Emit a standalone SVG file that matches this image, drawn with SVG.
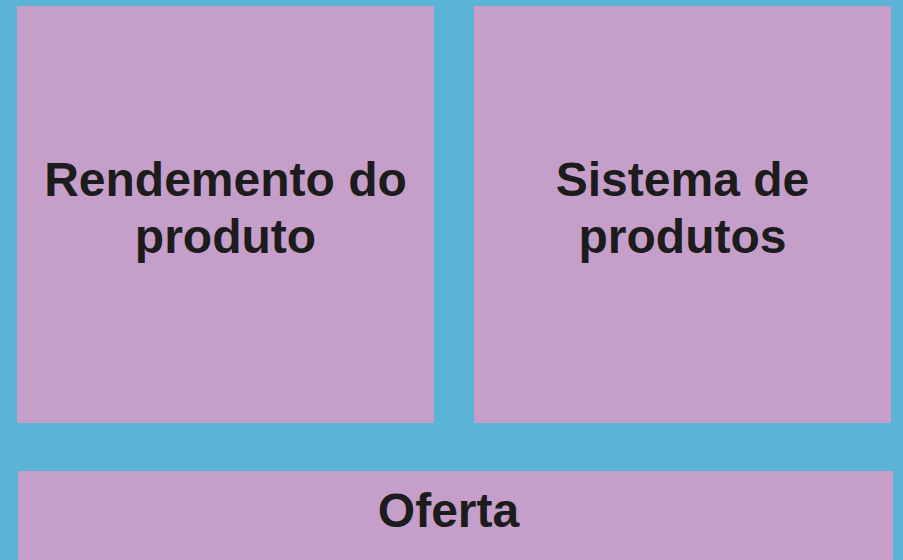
<svg xmlns="http://www.w3.org/2000/svg" width="903" height="560" viewBox="0 0 903 560">
<style>
.box{fill:#C59FC9;}
.lbl{font-family:"Liberation Sans",Arial,sans-serif;font-weight:bold;font-size:48px;fill:#1C1C1C;text-anchor:middle;}
</style>
<rect x="0" y="0" width="903" height="560" fill="#5BB3D6"/>
<g id="node-rendemento">
<rect class="box" x="17" y="6" width="417" height="417"/>
<text class="lbl" x="225.5" y="196">Rendemento do</text>
<text class="lbl" x="225.5" y="253">produto</text>
</g>
<g id="node-sistema">
<rect class="box" x="474" y="6" width="417" height="417"/>
<text class="lbl" x="682.5" y="196">Sistema de</text>
<text class="lbl" x="682.5" y="253">produtos</text>
</g>
<g id="node-oferta">
<rect class="box" x="18" y="471" width="875" height="89"/>
<text class="lbl" x="448.5" y="527">Oferta</text>
</g>
<g id="connectors"></g>
</svg>
